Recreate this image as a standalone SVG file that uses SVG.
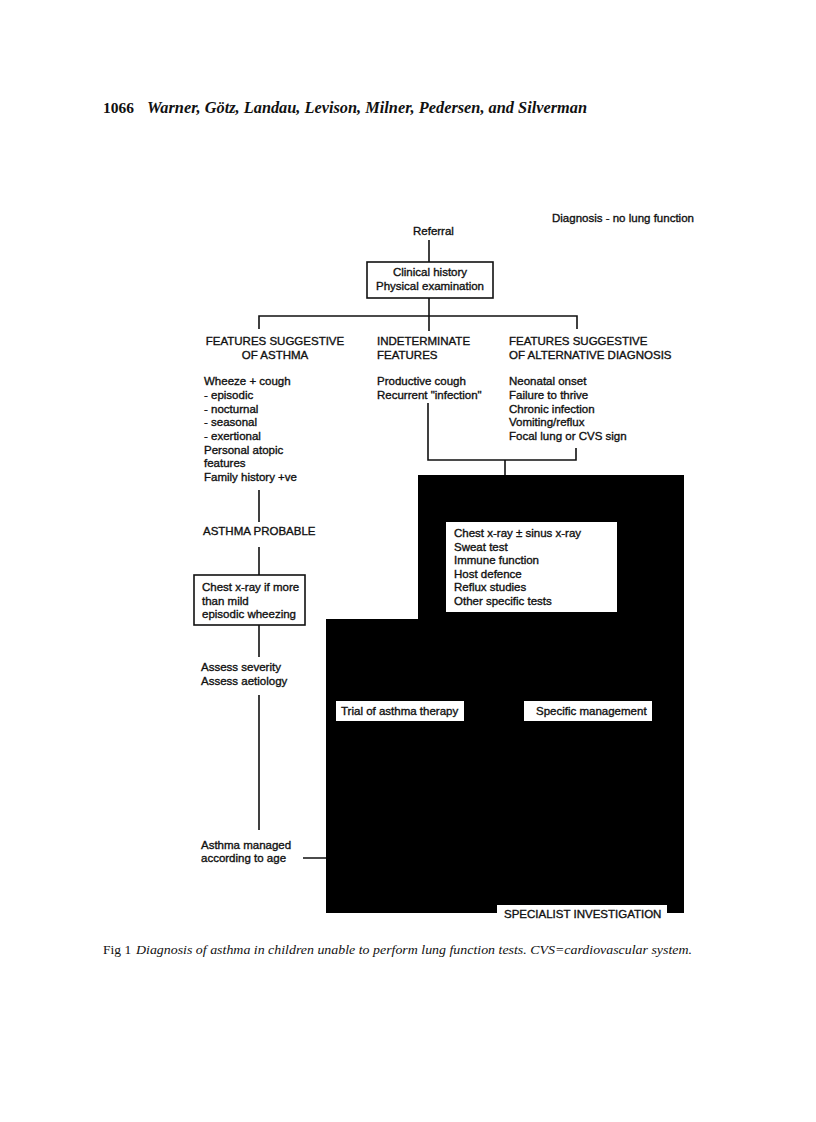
<svg xmlns="http://www.w3.org/2000/svg" width="816" height="1122" viewBox="0 0 816 1122">
<style>
.t{font-family:"Liberation Sans",Arial,sans-serif;font-size:11.5px;fill:#111;stroke:#111;stroke-width:0.35}
.s{font-family:"Liberation Serif","Times New Roman",serif;fill:#111}
.ln{stroke:#111;stroke-width:1.6;fill:none}
.box{fill:#fff;stroke:#111;stroke-width:1.6}
.wb{fill:#fff;stroke:none}
</style>
<rect width="816" height="1122" fill="#fff"/>
<g id="header">
<text class="s" x="103" y="113" font-size="15.5" font-weight="bold">1066</text>
<text class="s" x="147" y="113" font-size="16" font-style="italic" font-weight="bold" textLength="440" lengthAdjust="spacingAndGlyphs">Warner, Götz, Landau, Levison, Milner, Pedersen, and Silverman</text>
</g>
<g id="title"><text class="t" x="552" y="222">Diagnosis - no lung function</text></g>
<g id="connectors">
<path class="ln" d="M429 240V262"/>
<path class="ln" d="M429 298V331M259 329V316H577V329"/>
<path class="ln" d="M428 403V460H576V448M505 460V475"/>
<path class="ln" d="M259 490V522M259 547V575M259 625V657M259 695V830M303 858H326"/>
</g>
<g id="specialist">
<path d="M418 475H684V913H326V619H418Z" fill="#000"/>
<rect class="wb" x="497" y="905" width="170" height="17"/>
<text class="t" x="504" y="918">SPECIALIST INVESTIGATION</text>
</g>
<g id="referral"><text class="t" x="413" y="235">Referral</text></g>
<g id="clinical">
<rect class="box" x="367" y="262" width="126" height="36"/>
<text class="t" x="430" y="276" text-anchor="middle">Clinical history</text>
<text class="t" x="430" y="290" text-anchor="middle">Physical examination</text>
</g>
<g id="asthma-features">
<text class="t" x="275" y="345" text-anchor="middle">FEATURES SUGGESTIVE</text>
<text class="t" x="275" y="359" text-anchor="middle">OF ASTHMA</text>
<text class="t" x="204" y="385">Wheeze + cough</text>
<text class="t" x="204" y="399">- episodic</text>
<text class="t" x="204" y="413">- nocturnal</text>
<text class="t" x="204" y="426">- seasonal</text>
<text class="t" x="204" y="440">- exertional</text>
<text class="t" x="204" y="454">Personal atopic</text>
<text class="t" x="204" y="467">features</text>
<text class="t" x="204" y="481">Family history +ve</text>
</g>
<g id="indeterminate">
<text class="t" x="377" y="345">INDETERMINATE</text>
<text class="t" x="377" y="359">FEATURES</text>
<text class="t" x="377" y="385">Productive cough</text>
<text class="t" x="377" y="399">Recurrent "infection"</text>
</g>
<g id="alternative">
<text class="t" x="509" y="345">FEATURES SUGGESTIVE</text>
<text class="t" x="509" y="359">OF ALTERNATIVE DIAGNOSIS</text>
<text class="t" x="509" y="385">Neonatal onset</text>
<text class="t" x="509" y="399">Failure to thrive</text>
<text class="t" x="509" y="413">Chronic infection</text>
<text class="t" x="509" y="426">Vomiting/reflux</text>
<text class="t" x="509" y="440">Focal lung or CVS sign</text>
</g>
<g id="asthma-probable"><text class="t" x="203" y="535">ASTHMA PROBABLE</text></g>
<g id="chest-xray">
<rect class="box" x="194" y="575" width="111" height="50"/>
<text class="t" x="202" y="591">Chest x-ray if more</text>
<text class="t" x="202" y="605">than mild</text>
<text class="t" x="202" y="618">episodic wheezing</text>
</g>
<g id="tests">
<rect class="wb" x="446" y="522" width="171" height="90"/>
<text class="t" x="454" y="537">Chest x-ray ± sinus x-ray</text>
<text class="t" x="454" y="551">Sweat test</text>
<text class="t" x="454" y="564">Immune function</text>
<text class="t" x="454" y="578">Host defence</text>
<text class="t" x="454" y="591">Reflux studies</text>
<text class="t" x="454" y="605">Other specific tests</text>
</g>
<g id="assess">
<text class="t" x="201" y="671">Assess severity</text>
<text class="t" x="201" y="685">Assess aetiology</text>
</g>
<g id="trial">
<rect class="wb" x="336" y="701" width="128" height="20"/>
<text class="t" x="341" y="715">Trial of asthma therapy</text>
</g>
<g id="specific">
<rect class="wb" x="524" y="701" width="128" height="20"/>
<text class="t" x="536" y="715">Specific management</text>
</g>
<g id="managed">
<text class="t" x="201" y="849">Asthma managed</text>
<text class="t" x="201" y="862">according to age</text>
</g>
<g id="caption">
<text class="s" x="103" y="954" font-size="13.5">Fig 1</text>
<text class="s" x="136" y="954" font-size="13" font-style="italic" textLength="556" lengthAdjust="spacingAndGlyphs">Diagnosis of asthma in children unable to perform lung function tests. CVS=cardiovascular system.</text>
</g>
</svg>
